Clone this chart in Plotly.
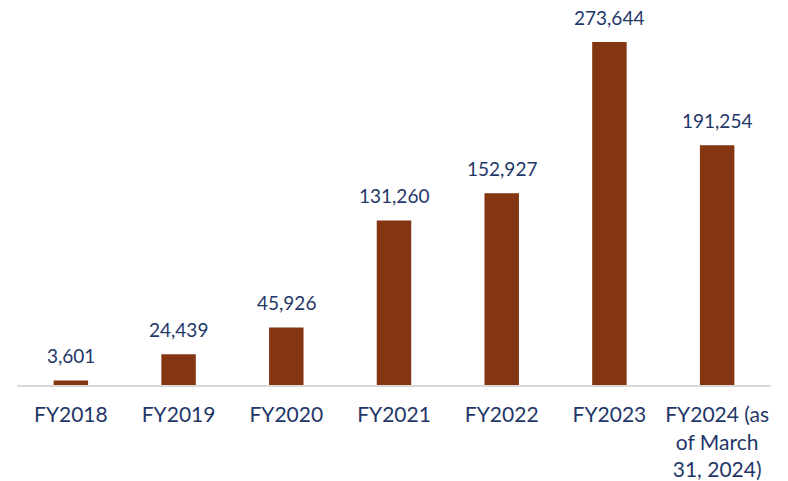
import plotly.graph_objects as go

categories = ["FY2018", "FY2019", "FY2020", "FY2021", "FY2022", "FY2023",
              "FY2024 (as<br>of March<br>31, 2024)"]
values = [3601, 24439, 45926, 131260, 152927, 273644, 191254]
labels = ["3,601", "24,439", "45,926", "131,260", "152,927", "273,644", "191,254"]

BAR = "#843511"
TXT = "#1F3768"
FONT = "Lato, 'Gill Sans', sans-serif"

fig = go.Figure()
fig.add_trace(go.Bar(x=categories, y=values, marker=dict(color=BAR, line=dict(width=0)),
                     hoverinfo="skip"))
for c, v, l in zip(categories, values, labels):
    fig.add_annotation(x=c, y=v, text=l, showarrow=False, yanchor="bottom", yshift=11,
                       font=dict(family=FONT, size=19, color=TXT))

fig.update_layout(
    width=788, height=481,
    margin=dict(l=9, r=25, t=4, b=104, autoexpand=False),
    paper_bgcolor="white", plot_bgcolor="white",
    bargap=0.68, showlegend=False,
    font=dict(family=FONT, color=TXT),
)
fig.update_xaxes(showline=True, linecolor="#D9D9D9", linewidth=2, ticks="", automargin=False,
                 tickfont=dict(family=FONT, size=21, color=TXT), ticklabelstandoff=10)
fig.update_yaxes(visible=False, range=[0, 297600], showgrid=False)
fig.write_html("out.html")
